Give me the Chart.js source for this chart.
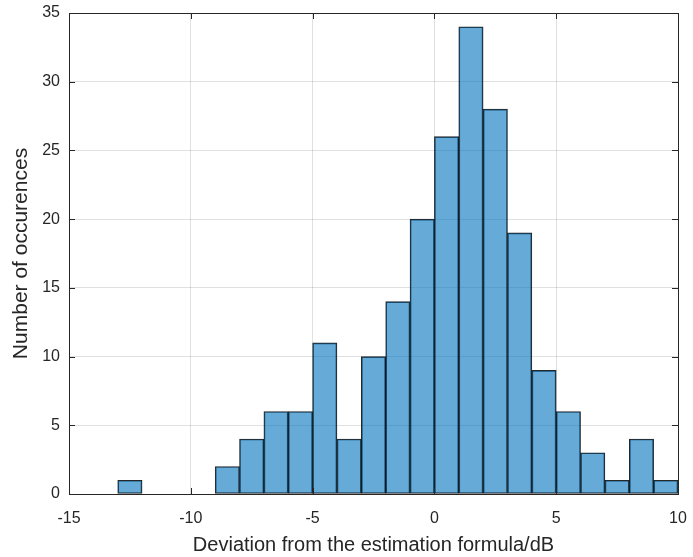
<!DOCTYPE html>
<html>
<head>
<meta charset="utf-8">
<script src="https://cdn.jsdelivr.net/npm/chart.js@4/dist/chart.umd.min.js"></script>
<style>
  html, body { margin: 0; padding: 0; background: #fff; }
  #wrap { width: 693px; height: 557px; }
</style>
</head>
<body>
<div id="wrap"><canvas id="hist"></canvas></div>
<script>
// histogram bins (edges in dB) and counts per bin
const binEdges = [-13, -12, -11, -10, -9, -8, -7, -6, -5, -4, -3, -2, -1, 0, 1, 2, 3, 4, 5, 6, 7, 8, 9, 10];
const counts = [1, 0, 0, 0, 2, 4, 6, 6, 11, 4, 10, 14, 20, 26, 34, 28, 19, 9, 6, 3, 1, 4, 1];
const xTicks = [-15, -10, -5, 0, 5, 10];
const yTicks = [0, 5, 10, 15, 20, 25, 30, 35];

const axisColor = '#262626';
const fontFamily = 'Liberation Sans, Arial, Helvetica, sans-serif';

const barData = counts.map((c, i) => ({
  x: (binEdges[i] + binEdges[i + 1]) / 2,
  y: c === 0 ? null : c
}));

// box round the axes + inward tick marks, matlab style
const boxPlugin = {
  id: 'box',
  afterDraw(chart) {
    const { ctx, chartArea: a, scales } = chart;
    const len = 6;
    ctx.save();
    ctx.strokeStyle = axisColor;
    ctx.lineWidth = 1;
    ctx.beginPath();
    xTicks.forEach(v => {
      const px = Math.round(scales.x.getPixelForValue(v)) + 0.5;
      ctx.moveTo(px, a.bottom); ctx.lineTo(px, a.bottom - len);
      ctx.moveTo(px, a.top); ctx.lineTo(px, a.top + len);
    });
    yTicks.forEach(v => {
      const py = Math.round(scales.y.getPixelForValue(v)) + 0.5;
      ctx.moveTo(a.left, py); ctx.lineTo(a.left + len, py);
      ctx.moveTo(a.right, py); ctx.lineTo(a.right - len, py);
    });
    ctx.stroke();
    ctx.strokeRect(Math.round(a.left) + 0.5, Math.round(a.top) + 0.5,
      Math.round(a.right - a.left), Math.round(a.bottom - a.top));
    ctx.restore();
  }
};

new Chart(document.getElementById('hist'), {
  type: 'bar',
  data: {
    datasets: [{
      data: barData,
      backgroundColor: 'rgba(0, 114, 189, 0.6)',
      borderColor: 'rgba(0, 0, 0, 0.85)',
      borderWidth: 1,
      borderSkipped: false,
      barPercentage: 1,
      categoryPercentage: 1,
      grouped: false
    }]
  },
  options: {
    responsive: true,
    maintainAspectRatio: false,
    animation: false,
    layout: { padding: { top: 13, right: 15, left: 0, bottom: 0 } },
    plugins: {
      legend: { display: false },
      tooltip: { enabled: false }
    },
    scales: {
      x: {
        type: 'linear',
        min: -15,
        max: 10,
        offset: false,
        afterBuildTicks: s => { s.ticks = xTicks.map(v => ({ value: v })); },
        afterFit: s => { s.height = 63; s.paddingLeft = 0; s.paddingRight = 0; },
        ticks: {
          color: axisColor,
          font: { family: fontFamily, size: 16 },
          padding: 15,
          maxRotation: 0
        },
        grid: { color: 'rgba(0,0,0,0.12)', drawTicks: false, offset: false },
        border: { display: false },
        title: {
          display: true,
          text: 'Deviation from the estimation formula/dB',
          color: axisColor,
          font: { family: fontFamily, size: 20 },
          padding: { top: 0, bottom: 0 }
        }
      },
      y: {
        min: 0,
        max: 35,
        afterBuildTicks: s => { s.ticks = yTicks.map(v => ({ value: v })); },
        afterFit: s => { s.width = 69; s.paddingTop = 0; s.paddingBottom = 0; },
        ticks: {
          color: axisColor,
          font: { family: fontFamily, size: 16 },
          padding: 9
        },
        grid: { color: 'rgba(0,0,0,0.12)', drawTicks: false },
        border: { display: false },
        title: {
          display: true,
          text: 'Number of occurences',
          color: axisColor,
          font: { family: fontFamily, size: 21 },
          padding: { top: 9, bottom: 0 }
        }
      }
    }
  },
  plugins: [boxPlugin]
});
</script>
</body>
</html>
